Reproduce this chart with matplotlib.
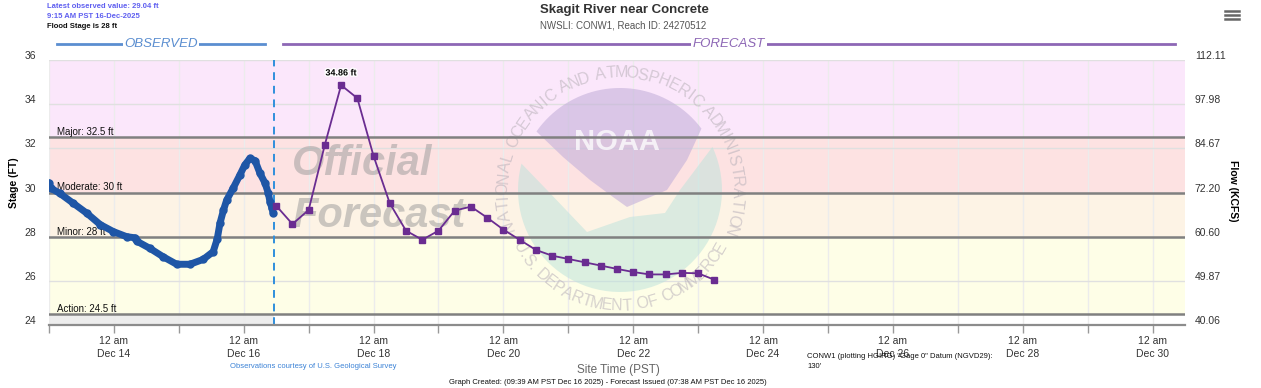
import numpy as np
import pandas as pd
import matplotlib.pyplot as plt
import matplotlib.dates as mdates
from matplotlib.patches import Polygon
from matplotlib.lines import Line2D
from matplotlib import transforms
import matplotlib.patheffects as pe

plt.rcParams['font.family'] = ['Liberation Sans', 'DejaVu Sans']

# observed stage: hours after Dec 13 00:00 PST, stage in ft
obs_hours = [0.0, 0.6, 4.0, 9.0, 14.0, 18.9, 23.8, 28.7, 31.7, 32.4, 37.3, 42.2,
             47.2, 52.1, 57.0, 60.7, 62.2, 63.2, 64.5, 65.7, 68.1, 70.6, 72.4,
             74.3, 76.2, 78.0, 79.9, 81.1, 81.7, 82.4, 82.9]
obs_stage = [30.44, 30.2, 29.96, 29.51, 29.06, 28.55, 28.23, 28.0, 27.95, 27.8, 27.47, 27.09,
             26.75, 26.75, 26.97, 27.32, 27.9, 28.6, 29.2, 29.66, 30.2, 30.8, 31.25,
             31.55, 31.44, 30.87, 30.42, 29.96, 29.58, 29.3, 29.07]

# forecast stage, 6-hourly from Dec 16 12:00 PST
fc_start = '2025-12-16 12:00'
fc_stage = [29.40, 28.57, 29.21, 32.17, 34.86, 34.27, 31.65, 29.51, 28.27, 27.86,
            28.27, 29.18, 29.36, 28.86, 28.32, 27.86, 27.40, 27.14, 26.99, 26.84,
            26.69, 26.54, 26.40, 26.29, 26.29, 26.36, 26.34, 26.05]

level_values = [24.5, 28, 30, 32.5]
level_labels = ['Action: 24.5 ft', 'Minor: 28 ft', 'Moderate: 30 ft', 'Major: 32.5 ft']

stage_ticks = [24, 26, 28, 30, 32, 34, 36]
flow_labels = ['40.06', '49.87', '60.60', '72.20', '84.67', '97.98', '112.11']

t0 = pd.Timestamp('2025-12-13 00:00')
t1 = pd.Timestamp('2025-12-30 12:00')
now = pd.Timestamp('2025-12-16 11:12')

obs_t = [t0 + pd.Timedelta(hours=h) for h in obs_hours]
fc_t = pd.date_range(fc_start, periods=len(fc_stage), freq='6h')

W, H = 1261, 388
fig = plt.figure(figsize=(W / 100, H / 100), dpi=100)
ax = fig.add_axes([49 / W, 1 - 325 / H, 1136 / W, 265 / H])
ax.set_xlim(t0, t1)
ax.set_ylim(24, 36)

# flood category bands
ax.axhspan(32.5, 36, color='#fbe7fb', zorder=0.2, lw=0)
ax.axhspan(30, 32.5, color='#fde2e2', zorder=0.2, lw=0)
ax.axhspan(28, 30, color='#fdf3e5', zorder=0.2, lw=0)
ax.axhspan(24.5, 28, color='#fefee7', zorder=0.2, lw=0)
frac = (now - t0) / (t1 - t0)
ax.axhspan(24, 24.5, xmin=0, xmax=frac, color='#ededed', zorder=0.2, lw=0)

ax.set_axisbelow(True)
ax.grid(True, axis='y', color='#e0e0e0', lw=1)
ax.grid(True, axis='x', color='#ececec', lw=1)

# watermark text
wm = transforms.Affine2D().scale(1 / 100) + fig.dpi_scale_trans
ax.text(292, H - 175, 'Official', transform=wm, fontsize=30, fontweight='bold',
        fontstyle='italic', color='#999999', alpha=0.5, zorder=1.1)
ax.text(292, H - 227, 'Forecast', transform=wm, fontsize=30, fontweight='bold',
        fontstyle='italic', color='#999999', alpha=0.5, zorder=1.1)

# NOAA seal (faded)
lg = transforms.Affine2D().translate(620, H - 190).scale(1 / 100) + fig.dpi_scale_trans
teal_arc = [(102 * np.cos(a), 102 * np.sin(a)) for a in np.radians(np.linspace(165, 385, 60))]
teal = Polygon(teal_arc + [(60, 0), (45, -23), (10, -27), (-33, -42), (-73, 0)],
               closed=True, transform=lg, facecolor='#bfe3dc', alpha=0.55, lw=0, zorder=1)
ax.add_patch(teal)
purple_arc = [(102 * np.cos(a), 102 * np.sin(a)) for a in np.radians(np.linspace(37, 145, 40))]
purple = Polygon(purple_arc + [(-57, 33), (-30, 10), (-7, -7), (7, -17), (47, 0), (67, 30)],
                 closed=True, transform=lg, facecolor='#c4b0da', alpha=0.6, lw=0, zorder=1)
ax.add_patch(purple)
ax.text(-3, 48, 'NOAA', transform=lg, fontsize=21, fontweight='bold', color='white',
        alpha=0.75, ha='center', va='center', zorder=1.05)


def ring(text, a0, a1, r, top):
    wts = [0.5 if c == ' ' else 0.45 if c == '.' else 0.55 if c == 'I' else 1.0 for c in text]
    cum = np.cumsum(wts) - np.array(wts) / 2
    cum = (cum - cum[0]) / (cum[-1] - cum[0])
    for ch, f in zip(text, cum):
        a = a0 + (a1 - a0) * f
        rot = a - 90 if top else a + 90
        ax.text(r * np.cos(np.radians(a)), r * np.sin(np.radians(a)), ch, transform=lg,
                rotation=rot, rotation_mode='anchor', ha='center', va='center',
                fontsize=11.5, color='#bcb4bc', alpha=0.6, zorder=1.05)


ring('NATIONAL OCEANIC AND ATMOSPHERIC ADMINISTRATION', 198, -20, 117, True)
ring('U.S. DEPARTMENT OF COMMERCE', 210, 330, 116, False)

# flood thresholds
lab_tr = transforms.blended_transform_factory(wm, ax.transData)
for val, lab in zip(level_values, level_labels):
    ax.axhline(val, color='#808080', lw=1.8, zorder=2)
    ax.text(57, val, lab, transform=lab_tr, fontsize=7, color='#111111', va='bottom',
            zorder=2.1)

# now line
ax.axvline(now, color='#2f8fdc', lw=1.4, ls=(0, (4, 3)), zorder=2.5)

# observed & forecast
ax.plot(obs_t, obs_stage, '-', color='#1f56a6', lw=5, solid_capstyle='round',
        solid_joinstyle='round', zorder=3)
ax.plot(obs_t, obs_stage, 'o', color='#1f56a6', ms=5, zorder=3)
ax.plot(fc_t, fc_stage, '-s', color='#6a2c91', lw=1.3, ms=4, zorder=3)

pk = int(np.argmax(fc_stage))
ax.annotate(f'{fc_stage[pk]:.2f} ft', (fc_t[pk], fc_stage[pk]), xytext=(0, 7),
            textcoords='offset points', ha='center', fontsize=6.5, fontweight='bold',
            color='black', zorder=4,
            path_effects=[pe.withStroke(linewidth=2, foreground='white')])

# axes styling
for s in ['top', 'left', 'right']:
    ax.spines[s].set_visible(False)
ax.spines['bottom'].set_color('#8c8c8c')
ax.spines['bottom'].set_linewidth(1.6)

ax.xaxis.set_major_locator(mdates.DayLocator())
ax.xaxis.set_major_formatter(plt.FuncFormatter(
    lambda x, p: f'12 am\nDec {mdates.num2date(x).day}' if mdates.num2date(x).day % 2 == 0 else ''))
ax.tick_params(axis='x', length=6, width=1, color='#999999', pad=2, labelsize=7.5,
               labelcolor='#333333')
for lab in ax.get_xticklabels():
    lab.set_linespacing(1.35)

ax.set_yticks(stage_ticks)
ax.tick_params(axis='y', length=0, pad=9, labelsize=7.5, labelcolor='#333333')
up = transforms.ScaledTranslation(0, 5 / 100, fig.dpi_scale_trans)
for lab in ax.get_yticklabels():
    lab.set_transform(lab.get_transform() + up)

ax2 = ax.twinx()
ax2.set_ylim(24, 36)
ax2.set_yticks(stage_ticks)
ax2.set_yticklabels(flow_labels)
ax2.tick_params(axis='y', length=0, pad=7, labelsize=7.5, labelcolor='#333333')
for s in ax2.spines.values():
    s.set_visible(False)
for lab in ax2.get_yticklabels():
    lab.set_transform(lab.get_transform() + up)


# header / footer texts
def fx(px):
    return px / W


def fy(py):
    return 1 - py / H


fig.text(fx(47), fy(7), 'Latest observed value: 29.04 ft', fontsize=5.5, fontweight='bold',
         color='#5f5ff0', va='center')
fig.text(fx(47), fy(17), '9:15 AM PST 16-Dec-2025', fontsize=5.5, fontweight='bold',
         color='#5f5ff0', va='center')
fig.text(fx(47), fy(27), 'Flood Stage is 28 ft', fontsize=5.5, fontweight='bold',
         color='#111111', va='center')
fig.text(fx(624), fy(10), 'Skagit River near Concrete', fontsize=9.5, fontweight='bold',
         color='#333333', ha='center', va='center')
fig.text(fx(623), fy(26), 'NWSLI: CONW1, Reach ID: 24270512', fontsize=7, color='#555555',
         ha='center', va='center')

fig.add_artist(Line2D([fx(57), fx(265)], [fy(44), fy(44)], color='#5b8ed0', lw=2))
fig.text(fx(161), fy(44), 'OBSERVED', fontsize=9.5, fontstyle='italic', color='#5b8ed0',
         ha='center', va='center', bbox=dict(facecolor='white', edgecolor='none', pad=1))
fig.add_artist(Line2D([fx(283), fx(1175)], [fy(44), fy(44)], color='#8d67b5', lw=2))
fig.text(fx(729), fy(44), 'FORECAST', fontsize=9.5, fontstyle='italic', color='#8d67b5',
         ha='center', va='center', bbox=dict(facecolor='white', edgecolor='none', pad=1))

for yy in [11, 15, 19]:
    fig.add_artist(Line2D([fx(1225), fx(1239)], [fy(yy), fy(yy)], color='#666666', lw=1.8))

fig.text(fx(14), fy(183), 'Stage (FT)', fontsize=7.5, fontweight='bold', rotation=90,
         ha='center', va='center')
fig.text(fx(1233), fy(191), 'Flow (KCFS)', fontsize=7.5, fontweight='bold', rotation=-90,
         ha='center', va='center')

fig.text(fx(618), fy(370), 'Site Time (PST)', fontsize=8.5, color='#666666', ha='center',
         va='center')
fig.text(fx(230), fy(366), 'Observations courtesy of U.S. Geological Survey', fontsize=5.5,
         color='#3b82d6', va='center')
fig.text(fx(449), fy(383), 'Graph Created: (09:39 AM PST Dec 16 2025) - Forecast Issued '
         '(07:38 AM PST Dec 16 2025)', fontsize=5.5, color='#111111', va='center')
fig.text(fx(807), fy(356), 'CONW1 (plotting HGIRG) "Gage 0" Datum (NGVD29):', fontsize=5.5,
         color='#111111', va='center')
fig.text(fx(807), fy(366), "130'", fontsize=5.5, color='#111111', va='center')

fig.savefig('out.png', dpi=100)
